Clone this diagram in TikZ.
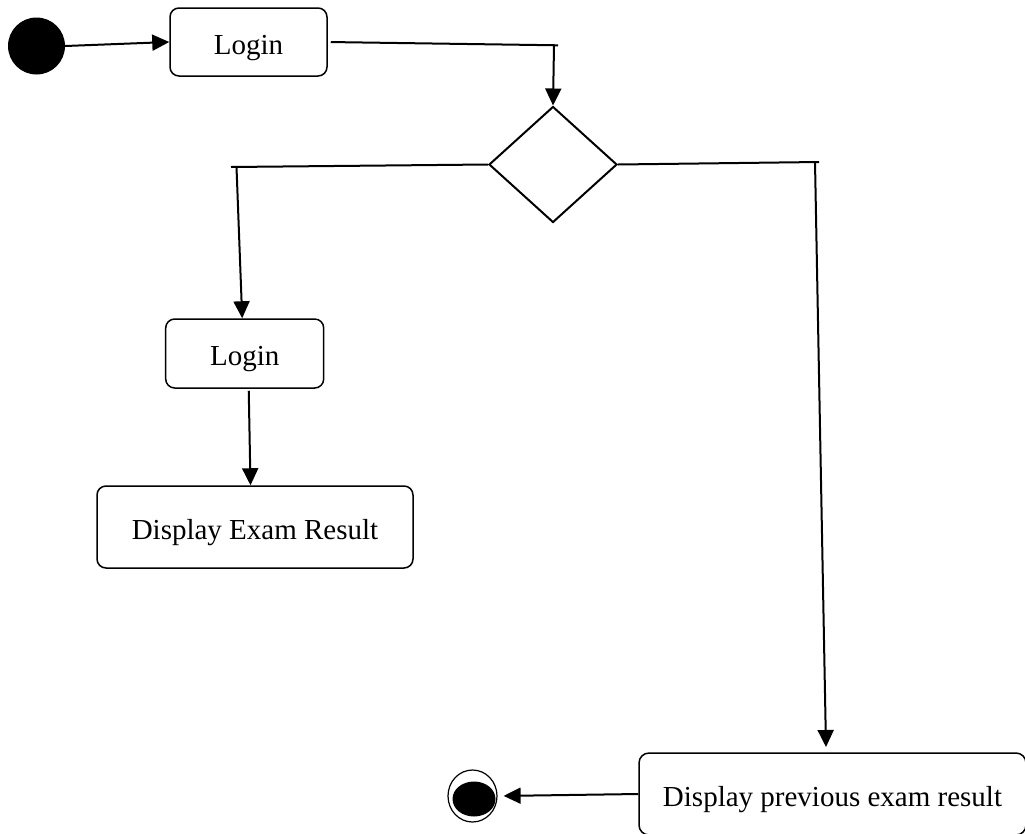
\documentclass[tikz,border=0pt]{standalone}
\usepackage{fontspec}
\setmainfont{Liberation Serif}
\usetikzlibrary{arrows.meta,shapes.geometric}

\tikzset{
  activity/.style={draw, line width=1.5pt, rounded corners=9pt, inner sep=0pt,
    text height=24pt, text depth=0pt,
    font=\fontsize{29}{34}\selectfont},
  decision/.style={draw, diamond, line width=2pt, inner sep=0pt,
    minimum width=128pt, minimum height=116pt},
  flow/.style={line width=2pt},
  arr/.style={flow, -{Triangle[length=17pt,width=16pt]}},
}

\begin{document}
\begin{tikzpicture}[x=1pt,y=-1pt]
  \useasboundingbox (0,0) rectangle (1025,833);
  \clip (0,0) rectangle (1025,833);

  % initial state
  \node[circle, fill=black, minimum size=57pt, inner sep=0pt] (start) at (36.5,46) {};

  % activities
  \node[activity, minimum width=157pt, minimum height=68pt] (login1) at (248.5,42) {Login};
  \node[decision] (dec) at (553,164.5) {};
  \node[activity, minimum width=158pt, minimum height=69pt] (login2) at (244.7,353.5) {Login};
  \node[activity, minimum width=316pt, minimum height=82pt] (exam) at (255,527) {Display Exam Result};
  \node[activity, rounded corners=10pt, minimum width=387pt, minimum height=82pt] (prev) at (832.5,794) {Display previous exam result};

  % final state
  \node[draw, ellipse, line width=1.2pt, minimum width=49pt, minimum height=52pt, inner sep=0pt] (final) at (472.5,796) {};
  \node[ellipse, fill=black, minimum width=43pt, minimum height=35pt, inner sep=0pt] (finalcore) at (474,799) {};

  % bend points
  \coordinate (t1end) at (558,45.3);
  \coordinate (t1) at (554,45.3);
  \coordinate (l1end) at (231,167);
  \coordinate (l1) at (236.5,167);
  \coordinate (r1end) at (819,162);
  \coordinate (r1) at (815,162);
  \coordinate (r1tip) at (826,747);

  % transitions
  \draw[arr] (start.east) -- (login1.west);
  \draw[flow, shorten <=3pt] (login1.east) -- (t1end);
  \draw[arr] (t1) -- (dec.north);
  \draw[flow] (dec.west) -- (l1end);
  \draw[arr] (l1) -- ([xshift=-2.5pt]login2.north);
  \draw[flow] (dec.east) -- (r1end);
  \draw[arr] (r1) -- (r1tip);
  \draw[arr, shorten <=2pt] ([xshift=4pt]login2.south) -- ([xshift=-4.5pt]exam.north);
  \draw[arr, shorten >=6pt] (prev.west) -- (final.east);
\end{tikzpicture}
\end{document}
